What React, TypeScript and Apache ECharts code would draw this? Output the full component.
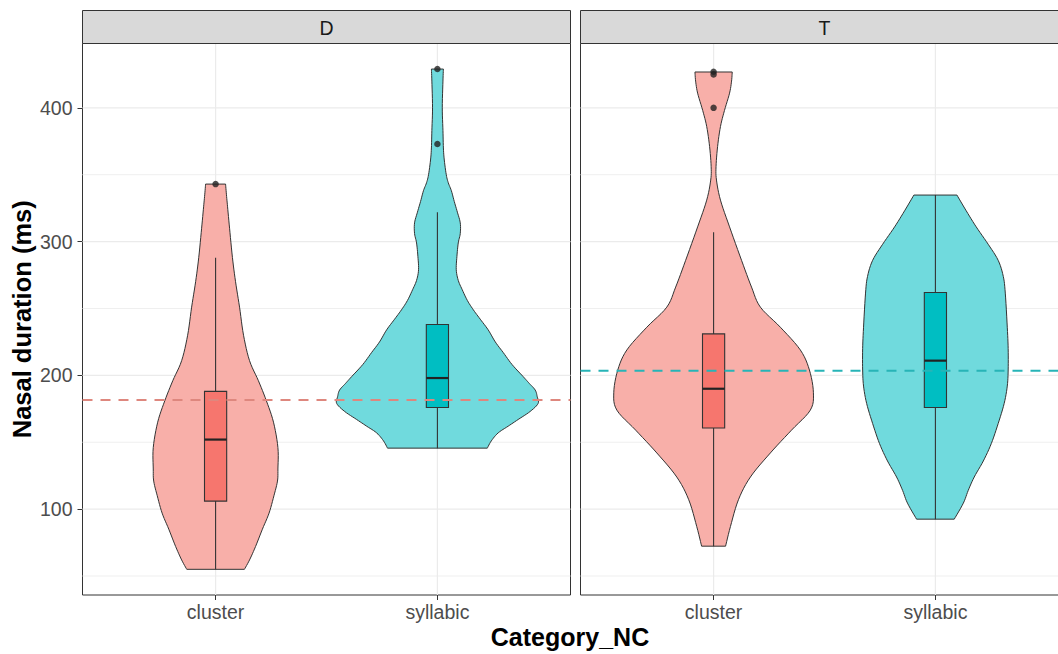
import React, { useEffect, useRef } from "react";
import * as echarts from "echarts";

// ---------- data ----------
const facets = ["D", "T"];
const categories = ["cluster", "syllabic"];
const yTicks = [100, 200, 300, 400];
const yMinorTicks = [50, 150, 250, 350];

// violin profiles: value (ms) and half-width (in category units)
const dClusterY = [343, 335, 326, 310, 288, 270, 251, 230, 211, 196, 181, 165, 146, 130, 121, 110, 97, 85, 72, 62, 55];
const dClusterW = [0.045, 0.049, 0.054, 0.063, 0.076, 0.09, 0.108, 0.126, 0.153, 0.193, 0.229, 0.261, 0.281, 0.281, 0.279, 0.263, 0.241, 0.211, 0.18, 0.153, 0.13];

const dSyllabicY = [429, 420, 400, 383, 370, 361, 350, 344, 338, 330, 322, 314, 306, 299, 289, 279, 271, 264, 256, 249, 242, 234, 225, 217, 208, 199, 194, 189, 184, 179, 173, 167, 162, 157, 151, 145.6];
const dSyllabicW = [0.027, 0.025, 0.022, 0.025, 0.027, 0.031, 0.04, 0.049, 0.063, 0.076, 0.09, 0.103, 0.103, 0.094, 0.088, 0.085, 0.094, 0.112, 0.135, 0.162, 0.193, 0.229, 0.261, 0.297, 0.337, 0.387, 0.414, 0.441, 0.45, 0.454, 0.418, 0.364, 0.319, 0.274, 0.243, 0.225];

const tClusterY = [426.8, 420, 411, 398, 386, 371, 356, 346, 331, 311, 286, 266, 251, 236, 219, 204, 187, 174, 159, 142, 124, 107, 87, 72.3];
const tClusterW = [0.084, 0.081, 0.072, 0.049, 0.031, 0.018, 0.011, 0.013, 0.031, 0.072, 0.126, 0.171, 0.211, 0.301, 0.391, 0.432, 0.45, 0.436, 0.351, 0.256, 0.166, 0.112, 0.076, 0.054];

const tSyllabicY = [334.8, 323, 311, 298, 286, 274, 261.5, 236, 220, 204, 192, 179, 164, 149, 136, 124, 114, 104.5, 92.5];
const tSyllabicW = [0.097, 0.139, 0.184, 0.238, 0.283, 0.306, 0.315, 0.324, 0.328, 0.328, 0.324, 0.31, 0.283, 0.252, 0.216, 0.175, 0.148, 0.126, 0.085];

// box stats: [lower whisker, q1, median, q3, upper whisker]
const dClusterBox = [55, 106, 152, 188, 288];
const dSyllabicBox = [145.6, 176, 198, 238, 322];
const tClusterBox = [72.3, 160.6, 190, 231, 307];
const tSyllabicBox = [92.5, 176, 211, 262, 334.8];

const dClusterOutliers = [343];
const dSyllabicOutliers = [429, 373];
const tClusterOutliers = [427, 425, 400];
const tSyllabicOutliers: number[] = [];

// dashed reference lines per facet
const refLines = [181.5, 203.4];

// ---------- styling ----------
const X_MIN = 0.4;
const X_MAX = 2.6;
const Y_MIN = 35.8;
const Y_MAX = 448.1;
const BOX_HALF = 0.05;
const FONT = "'Liberation Sans', Arial, Helvetica, sans-serif";
const violinFill = ["#F8AFA9", "#70DADD"];
const boxFill = ["#F6766E", "#00BEC2"];
const refColor = ["#DE877E", "#27B4B7"];
const EDGE = "#333333";

const panels = [
  { violins: [[dClusterY, dClusterW], [dSyllabicY, dSyllabicW]], boxes: [dClusterBox, dSyllabicBox], outliers: [dClusterOutliers, dSyllabicOutliers] },
  { violins: [[tClusterY, tClusterW], [tSyllabicY, tSyllabicW]], boxes: [tClusterBox, tSyllabicBox], outliers: [tClusterOutliers, tSyllabicOutliers] },
];

const GRID_LEFT = [82.5, 580.5];
const GRID_TOP = 43.5;
const GRID_W = 488;
const GRID_H = 551.5;
const CHART_W = 1080;
const CHART_H = 654;

// Catmull-Rom smoothing of an outline drawn in screen space
function smoothSide(pts: number[][], steps = 6): number[][] {
  const out: number[][] = [];
  const n = pts.length;
  for (let i = 0; i < n - 1; i++) {
    const p0 = pts[i - 1] || pts[i];
    const p1 = pts[i];
    const p2 = pts[i + 1];
    const p3 = pts[i + 2] || pts[i + 1];
    for (let s = 0; s < steps; s++) {
      const t = s / steps;
      const t2 = t * t;
      const t3 = t2 * t;
      const f = (a: number, b: number, c: number, d: number) =>
        0.5 * (2 * b + (-a + c) * t + (2 * a - 5 * b + 4 * c - d) * t2 + (-a + 3 * b - 3 * c + d) * t3);
      out.push([f(p0[0], p1[0], p2[0], p3[0]), f(p0[1], p1[1], p2[1], p3[1])]);
    }
  }
  out.push(pts[n - 1]);
  return out;
}

function buildOption() {
  const series: any[] = [];
  panels.forEach((panel, g) => {
    series.push({
      type: "custom", xAxisIndex: g, yAxisIndex: g, silent: true, z: 1,
      data: yMinorTicks.map((v) => [X_MIN, v]),
      renderItem: (_p: any, api: any) => {
        const v = api.value(1);
        const a = api.coord([X_MIN, v]);
        const b = api.coord([X_MAX, v]);
        return { type: "line", shape: { x1: a[0], y1: a[1], x2: b[0], y2: b[1] }, style: { stroke: "#EFEFEF", lineWidth: 1 } };
      },
    });
    series.push({
      type: "custom", xAxisIndex: g, yAxisIndex: g, silent: true, z: 1,
      data: yTicks.map((v) => [X_MIN, v]),
      renderItem: (_p: any, api: any) => {
        const v = api.value(1);
        const a = api.coord([X_MIN, v]);
        const b = api.coord([X_MAX, v]);
        return { type: "line", shape: { x1: a[0], y1: a[1], x2: b[0], y2: b[1] }, style: { stroke: "#EBEBEB", lineWidth: 1.2 } };
      },
    });
    series.push({
      type: "custom", xAxisIndex: g, yAxisIndex: g, silent: true, z: 1,
      data: categories.map((_c, i) => [i + 1, Y_MIN]),
      renderItem: (_p: any, api: any) => {
        const x = api.value(0);
        const a = api.coord([x, Y_MIN]);
        const b = api.coord([x, Y_MAX]);
        return { type: "line", shape: { x1: a[0], y1: a[1], x2: b[0], y2: b[1] }, style: { stroke: "#EBEBEB", lineWidth: 1.2 } };
      },
    });

    // violins
    panel.violins.forEach(([ys, ws], ci) => {
      const center = ci + 1;
      series.push({
        type: "custom", xAxisIndex: g, yAxisIndex: g, silent: true, z: 2,
        data: [[center, ys[0]]],
        renderItem: (_p: any, api: any) => {
          const left: number[][] = [];
          const right: number[][] = [];
          for (let i = 0; i < ys.length; i++) {
            left.push(api.coord([center - ws[i], ys[i]]));
            right.push(api.coord([center + ws[i], ys[i]]));
          }
          const pts = smoothSide(left).concat(smoothSide(right).reverse());
          return { type: "polygon", shape: { points: pts }, style: { fill: violinFill[ci], stroke: EDGE, lineWidth: 1 } };
        },
      });
    });

    // boxes
    panel.boxes.forEach((box, ci) => {
      const center = ci + 1;
      series.push({
        type: "custom", xAxisIndex: g, yAxisIndex: g, silent: true, z: 3,
        data: [[center, ...box]],
        renderItem: (_p: any, api: any) => {
          const lo = api.value(1), q1 = api.value(2), med = api.value(3), q3 = api.value(4), hi = api.value(5);
          const t = api.coord([center, hi]);
          const b = api.coord([center, lo]);
          const r1 = api.coord([center - BOX_HALF, q3]);
          const r2 = api.coord([center + BOX_HALF, q1]);
          const m1 = api.coord([center - BOX_HALF, med]);
          const m2 = api.coord([center + BOX_HALF, med]);
          return {
            type: "group",
            children: [
              { type: "line", shape: { x1: t[0], y1: t[1], x2: b[0], y2: b[1] }, style: { stroke: EDGE, lineWidth: 1.1 } },
              { type: "rect", shape: { x: r1[0], y: r1[1], width: r2[0] - r1[0], height: r2[1] - r1[1] }, style: { fill: boxFill[ci], stroke: EDGE, lineWidth: 1.1 } },
              { type: "line", shape: { x1: m1[0], y1: m1[1], x2: m2[0], y2: m2[1] }, style: { stroke: "#222222", lineWidth: 2.2 } },
            ],
          };
        },
      });
    });

    // reference dashed line
    series.push({
      type: "custom", xAxisIndex: g, yAxisIndex: g, silent: true, z: 4,
      data: [[X_MIN, refLines[g]]],
      renderItem: (_p: any, api: any) => {
        const v = api.value(1);
        const a = api.coord([X_MIN, v]);
        const b = api.coord([X_MAX, v]);
        return { type: "line", shape: { x1: a[0], y1: a[1], x2: b[0], y2: b[1] }, style: { stroke: refColor[g], lineWidth: 2, lineDash: [10, 8] } };
      },
    });

    // outliers
    const pts: number[][] = [];
    panel.outliers.forEach((arr, ci) => arr.forEach((v) => pts.push([ci + 1, v])));
    series.push({
      type: "scatter", xAxisIndex: g, yAxisIndex: g, silent: true, z: 5,
      symbol: "circle", symbolSize: 6.5,
      itemStyle: { color: "#222222" },
      data: pts,
    });
  });

  const xAxisBase = (g: number) => ({
    gridIndex: g, type: "value", min: X_MIN, max: X_MAX,
    axisLine: { show: false },
    splitLine: { show: false },
    axisTick: { show: true, customValues: [1, 2], length: 5, lineStyle: { color: EDGE, width: 1 } },
    axisLabel: {
      show: true, customValues: [1, 2], margin: 7,
      formatter: (v: number) => categories[Math.round(v) - 1] || "",
      color: "#4D4D4D", fontSize: 19.5, fontFamily: FONT,
    },
  });

  return {
    animation: false,
    backgroundColor: "#ffffff",
    grid: GRID_LEFT.map((left) => ({
      left, top: GRID_TOP, width: GRID_W, height: GRID_H,
      show: true, borderColor: EDGE, borderWidth: 1, backgroundColor: "#ffffff",
    })),
    xAxis: [xAxisBase(0), xAxisBase(1)],
    yAxis: [
      {
        gridIndex: 0, type: "value", min: Y_MIN, max: Y_MAX,
        axisLine: { show: false },
        splitLine: { show: false },
        axisTick: { show: true, customValues: yTicks, length: 5, lineStyle: { color: EDGE, width: 1 } },
        axisLabel: { show: true, customValues: yTicks, margin: 10, color: "#4D4D4D", fontSize: 19.5, fontFamily: FONT },
        name: "Nasal duration (ms)", nameLocation: "middle", nameGap: 48,
        nameTextStyle: { fontWeight: "bold", fontSize: 25.5, color: "#000000", fontFamily: FONT },
      },
      {
        gridIndex: 1, type: "value", min: Y_MIN, max: Y_MAX,
        axisLine: { show: false }, splitLine: { show: false },
        axisTick: { show: false }, axisLabel: { show: false },
      },
    ],
    graphic: [
      ...GRID_LEFT.map((left) => ({
        type: "rect", z: 10,
        shape: { x: left, y: 10.5, width: GRID_W, height: GRID_TOP - 10.5 },
        style: { fill: "#D9D9D9", stroke: EDGE, lineWidth: 1 },
      })),
      ...facets.map((f, i) => ({
        type: "text", z: 11,
        x: GRID_LEFT[i] + GRID_W / 2, y: (10.5 + GRID_TOP) / 2 + 1,
        style: { text: f, fill: "#1A1A1A", font: `19.5px ${FONT}`, align: "center", verticalAlign: "middle" },
      })),
      {
        type: "text", z: 11,
        x: 570, y: 637,
        style: { text: "Category_NC", fill: "#000000", font: `bold 25px ${FONT}`, align: "center", verticalAlign: "middle" },
      },
    ],
    series,
  };
}

export default function App() {
  const ref = useRef<HTMLDivElement>(null);
  useEffect(() => {
    if (!ref.current) return;
    const prevOverflow = document.body.style.overflow;
    document.body.style.overflow = "hidden";
    const chart = echarts.init(ref.current, undefined, { renderer: "svg" });
    chart.setOption(buildOption() as any);
    return () => {
      chart.dispose();
      document.body.style.overflow = prevOverflow;
    };
  }, []);
  return (
    <div
      ref={ref}
      style={{ position: "fixed", left: 0, top: 0, width: CHART_W, height: CHART_H, background: "#fff" }}
    />
  );
}
